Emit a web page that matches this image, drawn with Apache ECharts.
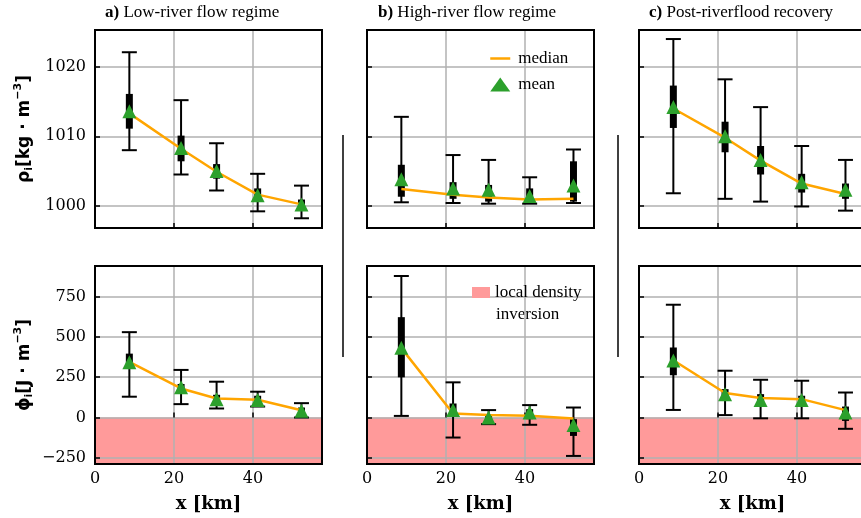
<!DOCTYPE html>
<html>
<head>
<meta charset="utf-8">
<script src="https://cdn.jsdelivr.net/npm/echarts@6/dist/echarts.min.js"></script>
<style>
  html, body { margin: 0; padding: 0; background: #fff; }
  #chart { width: 861px; height: 518px; }
</style>
</head>
<body>
<div id="chart"></div>
<script>
// distance along the estuary, same stations for every panel
const xKm = [8.7, 21.8, 30.8, 41.2, 52.3];

// density rho_i, one row per regime (a, b, c)
const rhoMedian = [
  [1013.3, 1008.2, 1004.9, 1001.6, 1000.2],
  [1002.4, 1001.6, 1001.2, 1000.9, 1001.0],
  [1014.0, 1009.8, 1006.5, 1003.2, 1001.7],
];
const rhoMean = [
  [1013.6, 1008.3, 1005.0, 1001.5, 1000.2],
  [1003.8, 1002.5, 1002.3, 1001.4, 1002.9],
  [1014.2, 1010.0, 1006.6, 1003.4, 1002.3],
];
const rhoQ1 = [
  [1011.1, 1006.4, 1003.9, 1000.9, 999.6],
  [1001.3, 1001.0, 1000.6, 1000.6, 1000.6],
  [1011.2, 1007.7, 1004.5, 1001.9, 1001.0],
];
const rhoQ3 = [
  [1016.1, 1010.1, 1006.0, 1002.5, 1000.9],
  [1005.9, 1003.4, 1003.0, 1002.5, 1006.4],
  [1017.3, 1012.1, 1008.6, 1004.6, 1003.2],
];
const rhoLow = [
  [1008.0, 1004.5, 1002.2, 999.2, 998.2],
  [1000.5, 1000.4, 1000.3, 1000.3, 1000.4],
  [1001.8, 1001.0, 1000.6, 999.9, 999.3],
];
const rhoHigh = [
  [1022.1, 1015.2, 1009.0, 1004.6, 1002.9],
  [1012.8, 1007.3, 1006.6, 1004.1, 1008.1],
  [1024.0, 1018.2, 1014.2, 1008.6, 1006.6],
];

// potential energy anomaly phi_i
const phiMedian = [
  [345, 180, 118, 110, 45],
  [430, 25, 15, 11, -6],
  [355, 152, 121, 114, 46],
];
const phiMean = [
  [342, 187, 114, 108, 42],
  [432, 46, 0, 31, -47],
  [353, 145, 108, 108, 31],
];
const phiQ1 = [
  [301, 156, 87, 83, 10],
  [249, 21, -21, -10, -114],
  [262, 114, 83, 79, -21],
];
const phiQ3 = [
  [396, 208, 141, 135, 62],
  [622, 87, 21, 52, -10],
  [434, 176, 145, 135, 68],
];
const phiLow = [
  [129, 83, 56, 68, 0],
  [10, -124, -41, -45, -238],
  [47, 15, -5, -5, -70],
];
const phiHigh = [
  [529, 295, 222, 160, 89],
  [877, 218, 46, 77, 62],
  [699, 290, 234, 228, 155],
];

const panelLetters = ["a)", "b)", "c)"];
const panelTitles = ["Low-river flow regime", "High-river flow regime", "Post-riverflood recovery"];
const xTicks = [0, 20, 40];
const rhoTicks = [1000, 1010, 1020];
const phiTicks = [-250, 0, 250, 500, 750];
const xRange = [0, 57.5];
const rhoRange = [996.8, 1025.3];
const phiRange = [-288, 939];

// layout (pixels)
const colLeft = [95, 367, 639];
const colWidth = 227;
const rowTop = [30, 266];
const rowHeight = 198;
const titleLeft = [105, 378, 649];

const serif = "DejaVu Serif";
const textSerif = "Liberation Serif";

function errorBars(idx, lo, q1, q3, hi) {
  return {
    type: "custom",
    xAxisIndex: idx,
    yAxisIndex: idx,
    z: 2,
    silent: true,
    encode: { x: 0, y: [1, 2, 3, 4] },
    data: xKm.map((x, i) => [x, lo[i], q1[i], q3[i], hi[i]]),
    renderItem(params, api) {
      const x = api.value(0);
      const pLo = api.coord([x, api.value(1)]);
      const pQ1 = api.coord([x, api.value(2)]);
      const pQ3 = api.coord([x, api.value(3)]);
      const pHi = api.coord([x, api.value(4)]);
      const cap = 7.5;
      const st = { stroke: "#000", lineWidth: 2 };
      return {
        type: "group",
        children: [
          { type: "line", shape: { x1: pLo[0], y1: pLo[1], x2: pHi[0], y2: pHi[1] }, style: st },
          { type: "line", shape: { x1: pLo[0] - cap, y1: pLo[1], x2: pLo[0] + cap, y2: pLo[1] }, style: st },
          { type: "line", shape: { x1: pHi[0] - cap, y1: pHi[1], x2: pHi[0] + cap, y2: pHi[1] }, style: st },
          {
            type: "rect",
            shape: { x: pQ3[0] - 3.5, y: pQ3[1], width: 7, height: pQ1[1] - pQ3[1] },
            style: { fill: "#000" },
          },
        ],
      };
    },
  };
}

function medianLine(idx, vals) {
  return {
    name: "median",
    type: "line",
    xAxisIndex: idx,
    yAxisIndex: idx,
    z: 3,
    symbol: "none",
    silent: true,
    lineStyle: { color: "#ffa500", width: 2.5 },
    itemStyle: { color: "#ffa500" },
    data: xKm.map((x, i) => [x, vals[i]]),
  };
}

function meanPoints(idx, vals) {
  return {
    name: "mean",
    type: "scatter",
    xAxisIndex: idx,
    yAxisIndex: idx,
    z: 4,
    symbol: "triangle",
    symbolSize: 14,
    symbolKeepAspect: true,
    silent: true,
    itemStyle: { color: "#2ca02c", opacity: 1 },
    data: xKm.map((x, i) => [x, vals[i]]),
  };
}

// negative band (phi < 0) drawn through the axes
function inversionBand(idx) {
  return {
    name: "local density inversion",
    type: "custom",
    xAxisIndex: idx,
    yAxisIndex: idx,
    z: -1,
    silent: true,
    itemStyle: { color: "#ff9a9a" },
    data: [[xRange[0], phiRange[0], xRange[1], 0]],
    renderItem(params, api) {
      const p1 = api.coord([api.value(0), api.value(3)]);
      const p2 = api.coord([api.value(2), api.value(1)]);
      return {
        type: "rect",
        shape: { x: p1[0], y: p1[1], width: p2[0] - p1[0], height: p2[1] - p1[1] },
        style: { fill: api.visual("color") },
      };
    },
  };
}

// mathtext-like axis names: main text, subscript, superscript
const nameRich = {
  b: { fontFamily: "DejaVu Sans", fontWeight: "bold", fontSize: 17, color: "#000", lineHeight: 24, verticalAlign: "middle" },
  s: { fontFamily: "DejaVu Sans", fontWeight: "bold", fontSize: 11, color: "#000", lineHeight: 24, verticalAlign: "bottom", padding: [0, 0, 2, 0] },
  p: { fontFamily: "DejaVu Sans", fontWeight: "bold", fontSize: 11, color: "#000", lineHeight: 24, verticalAlign: "top" },
};
const rhoName = "{b|ρ}{s|i}{b|[kg · m}{p|−3}{b|]}";
const phiName = "{b|ϕ}{s|i}{b|[J · m}{p|−3}{b|]}";

const grids = [];
const xAxes = [];
const yAxes = [];
const series = [];

for (let row = 0; row < 2; row++) {
  for (let col = 0; col < 3; col++) {
    const idx = row * 3 + col;
    const isRho = row === 0;
    grids.push({
      left: colLeft[col],
      top: rowTop[row],
      width: colWidth,
      height: rowHeight,
      show: true,
      z: 10,
      backgroundColor: "transparent",
      borderColor: "#000",
      borderWidth: 2,
      containLabel: false,
      outerBoundsMode: "none",
    });
    xAxes.push({
      type: "value",
      gridIndex: idx,
      min: xRange[0],
      max: xRange[1],
      axisLine: { show: false },
      axisTick: { show: true, inside: true, length: 5, customValues: xTicks, lineStyle: { color: "#000", width: 1.5 } },
      axisLabel: {
        show: row === 1,
        customValues: xTicks,
        margin: 7,
        fontFamily: serif,
        fontSize: 16,
        color: "#000",
      },
      splitLine: { show: true, lineStyle: { color: "#b0b0b0", width: 1.5 } },
      name: row === 1 ? "x [km]" : "",
      nameLocation: "middle",
      nameGap: 31,
      nameTextStyle: { fontFamily: serif, fontWeight: "bold", fontSize: 18, color: "#000" },
    });
    const ticks = isRho ? rhoTicks : phiTicks;
    const range = isRho ? rhoRange : phiRange;
    yAxes.push({
      type: "value",
      gridIndex: idx,
      min: range[0],
      max: range[1],
      axisLine: { show: false },
      axisTick: { show: true, inside: true, length: 5, customValues: ticks, lineStyle: { color: "#000", width: 1.5 } },
      axisLabel: {
        show: col === 0,
        customValues: ticks,
        margin: 9,
        fontFamily: serif,
        fontSize: 16,
        color: "#000",
        formatter: (v) => String(v).replace("-", "\u2212"),
      },
      splitLine: { show: true, lineStyle: { color: "#b0b0b0", width: 1.5 } },
      name: col === 0 ? (isRho ? rhoName : phiName) : "",
      nameLocation: "middle",
      nameRotate: 90,
      nameGap: 58,
      nameTextStyle: { rich: nameRich },
    });

    if (isRho) {
      series.push(errorBars(idx, rhoLow[col], rhoQ1[col], rhoQ3[col], rhoHigh[col]));
      series.push(medianLine(idx, rhoMedian[col]));
      series.push(meanPoints(idx, rhoMean[col]));
    } else {
      series.push(inversionBand(idx));
      series.push(errorBars(idx, phiLow[col], phiQ1[col], phiQ3[col], phiHigh[col]));
      series.push(medianLine(idx, phiMedian[col]));
      series.push(meanPoints(idx, phiMean[col]));
    }
  }
}

const legendText = { fontFamily: textSerif, fontSize: 17, color: "#000" };

const option = {
  animation: false,
  backgroundColor: "#fff",
  title: panelTitles.map((t, i) => ({
    text: "{b|" + panelLetters[i] + "} " + t,
    left: titleLeft[i],
    top: 4,
    padding: 0,
    textStyle: {
      fontFamily: textSerif,
      fontSize: 17,
      fontWeight: "normal",
      color: "#000",
      rich: { b: { fontFamily: textSerif, fontSize: 17, fontWeight: "bold", color: "#000" } },
    },
  })),
  legend: [
    {
      // line-only icon for the median: hide the marker the line legend adds
      data: [
        { name: "median", itemStyle: { opacity: 0 }, lineStyle: { color: "#ffa500", width: 2.5, opacity: 1 } },
        "mean",
      ],
      orient: "vertical",
      left: 489,
      top: 50,
      padding: 0,
      itemWidth: 20,
      itemHeight: 14,
      itemGap: 9,
      selectedMode: false,
      textStyle: Object.assign({ padding: [0, 0, 0, 3] }, legendText),
    },
    {
      data: [{ name: "local density inversion", icon: "rect" }],
      left: 472,
      top: 284,
      padding: 0,
      itemWidth: 18,
      itemHeight: 11,
      selectedMode: false,
      formatter: () => "local density",
      textStyle: legendText,
    },
  ],
  graphic: [
    { type: "text", x: 496, y: 315, style: { text: "inversion", font: '17px "Liberation Serif"', fill: "#000", verticalAlign: "middle" } },
    // thin separators between the columns
    { type: "line", shape: { x1: 343, y1: 135, x2: 343, y2: 357 }, style: { stroke: "#000", lineWidth: 1.5 } },
    { type: "line", shape: { x1: 618, y1: 135, x2: 618, y2: 357 }, style: { stroke: "#000", lineWidth: 1.5 } },
  ],
  grid: grids,
  xAxis: xAxes,
  yAxis: yAxes,
  series: series,
};

const myChart = echarts.init(document.getElementById("chart"), null, { renderer: "canvas" });
myChart.setOption(option);
</script>
</body>
</html>
